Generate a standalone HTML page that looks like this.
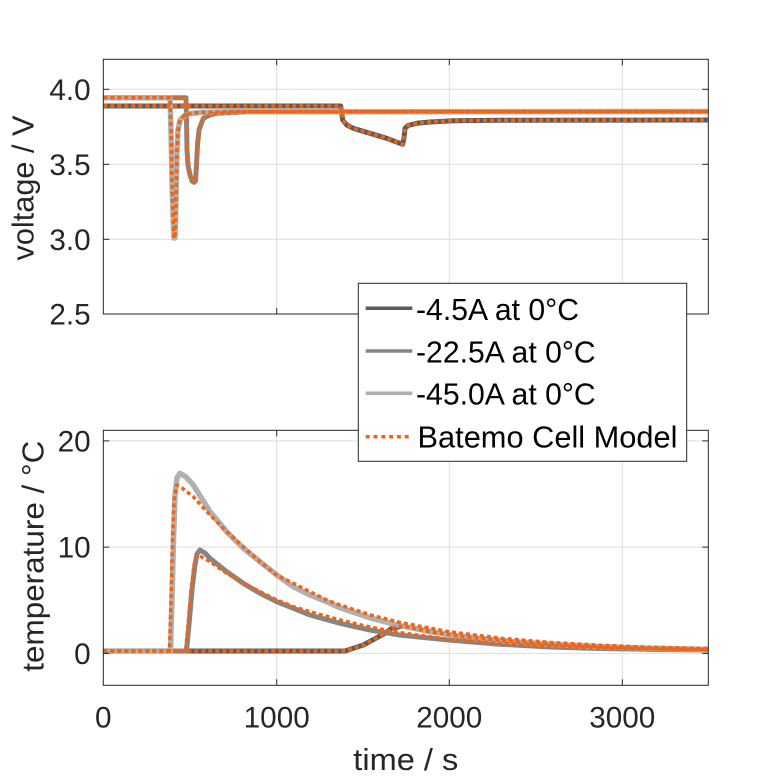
<!DOCTYPE html>
<html><head><meta charset="utf-8"><style>
html,body{margin:0;padding:0;background:#fff;}
svg{display:block;}
text{font-family:"Liberation Sans",sans-serif;}
</style></head><body>
<svg width="781" height="781" viewBox="0 0 781 781" xmlns="http://www.w3.org/2000/svg">
<defs>
<clipPath id="c1"><rect x="103.3" y="59.3" width="605" height="254.7"/></clipPath>
<clipPath id="c2"><rect x="103.3" y="430.3" width="605" height="255"/></clipPath>
</defs>
<rect width="781" height="781" fill="#fff"/>

<!-- TOP AXES -->
<rect x="103.3" y="59.3" width="605" height="254.7" fill="#fff"/>
<g stroke="#dedede" stroke-width="1" fill="none">
<line x1="276.7" y1="59.3" x2="276.7" y2="314"/>
<line x1="449.3" y1="59.3" x2="449.3" y2="314"/>
<line x1="622.3" y1="59.3" x2="622.3" y2="314"/>
<line x1="103.3" y1="89.3" x2="708.3" y2="89.3"/>
<line x1="103.3" y1="164.3" x2="708.3" y2="164.3"/>
<line x1="103.3" y1="239.3" x2="708.3" y2="239.3"/>
</g>
<g clip-path="url(#c1)" fill="none" stroke-linejoin="round" stroke-linecap="butt">
<path d="M103.3,106 L340.7,106 L341.5,112 L342.7,120 L346.7,125 L353.3,128.3 L370,133.3 L386.7,138.3 L402.7,144.3 L404,138 L405,128.3 L408,125.5 L416.7,123.3 L430,122 L453.3,120.7 L500,120.3 L709,120" stroke="#5a5a5a" stroke-width="5"/>
<path d="M103.3,97.7 L186,97.7 L186.5,120 L187,150 L188,165 L190,175 L192,181 L194,182.3 L195.5,181 L196.5,165 L197.5,145 L199,130 L203.3,118.3 L210,115 L216.7,113.3 L250,111.7 L709,111.5" stroke="#858585" stroke-width="5"/>
<path d="M103.3,97.7 L170,97.7 L171,130 L172,180 L173,215 L174,238 L175,238 L176,200 L177,150 L178,130 L180,120 L184,116 L190,113.5 L200,112.5 L230,111.8 L709,111.5" stroke="#b0b0b0" stroke-width="5.5"/>
<g stroke="#f26414" stroke-width="3.5" stroke-dasharray="4 3">
<path d="M103.3,106 L340.7,106 L341.5,112 L342.7,120 L346.7,125 L353.3,128.3 L370,133.3 L386.7,138.3 L402.7,144.3 L404,138 L405,128.3 L408,125.5 L416.7,123.3 L430,122 L453.3,120.7 L500,120.3 L709,120"/>
<path d="M103.3,97.7 L186,97.7 L186.5,120 L187,150 L188,165 L190,175 L192,181 L194,182.3 L195.5,181 L196.5,165 L197.5,145 L199,130 L203.3,118.3 L210,115 L216.7,113.3 L250,111.7 L709,111.5"/>
<path d="M103.3,97.7 L170,97.7 L171,130 L172,180 L173,215 L174,238 L175,238 L176,200 L177,150 L178,130 L180,120 L184,116 L190,113.5 L200,112.5 L230,111.8 L709,111.5"/>
</g>
</g>
<rect x="103.3" y="59.3" width="605" height="254.7" fill="none" stroke="#262626" stroke-width="1"/>
<g stroke="#262626" stroke-width="1">
<line x1="276.7" y1="314" x2="276.7" y2="308"/><line x1="449.3" y1="314" x2="449.3" y2="308"/><line x1="622.3" y1="314" x2="622.3" y2="308"/>
<line x1="276.7" y1="59.3" x2="276.7" y2="65.3"/><line x1="449.3" y1="59.3" x2="449.3" y2="65.3"/><line x1="622.3" y1="59.3" x2="622.3" y2="65.3"/>
<line x1="103.3" y1="89.3" x2="109.3" y2="89.3"/><line x1="103.3" y1="164.3" x2="109.3" y2="164.3"/><line x1="103.3" y1="239.3" x2="109.3" y2="239.3"/>
<line x1="708.3" y1="89.3" x2="702.3" y2="89.3"/><line x1="708.3" y1="164.3" x2="702.3" y2="164.3"/><line x1="708.3" y1="239.3" x2="702.3" y2="239.3"/>
</g>
<g fill="#262626" font-size="29.7" text-anchor="end">
<text x="90.7" y="99.9">4.0</text>
<text x="90.7" y="174.9">3.5</text>
<text x="90.7" y="249.9">3.0</text>
<text x="90.7" y="324.6">2.5</text>
</g>
<text transform="translate(33.3,188) rotate(-90)" text-anchor="middle" font-size="31" fill="#262626" textLength="145" lengthAdjust="spacingAndGlyphs">voltage / V</text>

<!-- BOTTOM AXES -->
<g stroke="#dedede" stroke-width="1" fill="none">
<line x1="276.7" y1="430.3" x2="276.7" y2="685.3"/>
<line x1="449.3" y1="430.3" x2="449.3" y2="685.3"/>
<line x1="622.3" y1="430.3" x2="622.3" y2="685.3"/>
<line x1="103.3" y1="440.9" x2="708.3" y2="440.9"/>
<line x1="103.3" y1="547.1" x2="708.3" y2="547.1"/>
<line x1="103.3" y1="653.4" x2="708.3" y2="653.4"/>
</g>
<g clip-path="url(#c2)" fill="none" stroke-linejoin="round">
<path d="M103.3,651 L345,651 L363.3,645 L385,633.3 L392,628 L403.3,626 L415,628.5 L430,631.7 L463,636.7 L496.7,640 L530,643.3 L570,645.5 L620,647.8 L670,649 L709,649.8" stroke="#5a5a5a" stroke-width="5"/>
<path d="M103.3,651 L186.5,651 L189,625 L192,590 L195,565 L197,554 L200,550 L205,553 L210,558.3 L226.7,571.7 L243.3,583.3 L260,593.3 L276.7,601.7 L293.3,608.3 L310,615 L340,623.3 L370,630 L400,635.1 L450,640.2 L500,644.2 L550,647 L600,648.5 L650,649.4 L709,650" stroke="#858585" stroke-width="5"/>
<path d="M103.3,651 L170.5,651 L172,600 L173.5,540 L175,495 L177,478 L180,473.3 L186,477 L193.3,485 L210,511.7 L226.7,531.7 L243.3,548.3 L260,561.7 L276.7,575 L293.3,586.7 L310,595 L326.7,601.7 L340,607.7 L370,617.9 L400,625.7 L450,634.8 L500,640.6 L550,644.4 L600,646.8 L650,648.3 L709,649.4" stroke="#b0b0b0" stroke-width="5.5"/>
<g stroke="#f26414" stroke-width="3.5" stroke-dasharray="4 3">
<path d="M103.3,651 L345,651 L363.3,645 L385,633.3 L392,628 L403.3,626 L415,628.5 L430,631.7 L463,636.7 L496.7,640 L530,643.3 L570,645.5 L620,647.8 L670,649 L709,649.8"/>
<path d="M103.3,651 L185.5,651 L188,625 L191,590 L194,565 L196.5,556 L198.3,555 L210,561.7 L226.7,573.3 L243.3,583.3 L260,591.7 L276.7,600 L293.3,606.7 L310,611.7 L340,620 L370,627.1 L400,632.6 L450,639.6 L500,643.3 L550,646 L600,647.8 L650,648.9 L709,649.7"/>
<path d="M103.3,651 L169.5,651 L171,600 L172.5,540 L174,500 L176.7,485 L182,488 L193.3,496.7 L210,515 L226.7,531.7 L243.3,546.7 L260,561.7 L276.7,575 L293.3,583.3 L310,591.7 L326.7,600 L340,605 L370,614.8 L400,622.5 L450,631.9 L500,638.2 L550,642.4 L600,645.3 L650,647.2 L709,648.6"/>
</g>
</g>
<rect x="103.3" y="430.3" width="605" height="255" fill="none" stroke="#262626" stroke-width="1"/>
<g stroke="#262626" stroke-width="1">
<line x1="276.7" y1="685.3" x2="276.7" y2="679.3"/><line x1="449.3" y1="685.3" x2="449.3" y2="679.3"/><line x1="622.3" y1="685.3" x2="622.3" y2="679.3"/>
<line x1="276.7" y1="430.3" x2="276.7" y2="436.3"/><line x1="449.3" y1="430.3" x2="449.3" y2="436.3"/><line x1="622.3" y1="430.3" x2="622.3" y2="436.3"/>
<line x1="103.3" y1="440.9" x2="109.3" y2="440.9"/><line x1="103.3" y1="547.1" x2="109.3" y2="547.1"/><line x1="103.3" y1="653.4" x2="109.3" y2="653.4"/>
<line x1="708.3" y1="440.9" x2="702.3" y2="440.9"/><line x1="708.3" y1="547.1" x2="702.3" y2="547.1"/><line x1="708.3" y1="653.4" x2="702.3" y2="653.4"/>
</g>
<g fill="#262626" font-size="29.7" text-anchor="end">
<text x="90.7" y="451.5">20</text>
<text x="90.7" y="557.7">10</text>
<text x="90.7" y="664">0</text>
</g>
<g fill="#262626" font-size="29.7" text-anchor="middle">
<text x="103.3" y="727.3">0</text>
<text x="276.7" y="727.3">1000</text>
<text x="449.3" y="727.3">2000</text>
<text x="622.3" y="727.3">3000</text>
</g>
<text transform="translate(43.3,556.2) rotate(-90)" text-anchor="middle" font-size="31" fill="#262626" textLength="231" lengthAdjust="spacingAndGlyphs">temperature / °C</text>
<text x="405.8" y="770" text-anchor="middle" font-size="31" fill="#262626" textLength="105" lengthAdjust="spacingAndGlyphs">time / s</text>

<!-- LEGEND -->
<rect x="358.3" y="283.3" width="328.4" height="178" fill="#fff" stroke="#262626" stroke-width="1"/>
<line x1="365.7" y1="308.3" x2="412.3" y2="308.3" stroke="#5a5a5a" stroke-width="3.5"/>
<line x1="365.7" y1="351" x2="412.3" y2="351" stroke="#858585" stroke-width="3.5"/>
<line x1="365.7" y1="393.3" x2="412.3" y2="393.3" stroke="#b0b0b0" stroke-width="3.5"/>
<line x1="365.7" y1="436.7" x2="412.3" y2="436.7" stroke="#f26414" stroke-width="3.5" stroke-dasharray="4 3.8"/>
<g fill="#000" font-size="31">
<text x="416" y="320" textLength="163" lengthAdjust="spacingAndGlyphs">-4.5A at 0°C</text>
<text x="416" y="362.3" textLength="179.7" lengthAdjust="spacingAndGlyphs">-22.5A at 0°C</text>
<text x="416" y="404.3" textLength="179.7" lengthAdjust="spacingAndGlyphs">-45.0A at 0°C</text>
<text x="417.5" y="447.7" textLength="260" lengthAdjust="spacingAndGlyphs">Batemo Cell Model</text>
</g>
</svg>
</body></html>
